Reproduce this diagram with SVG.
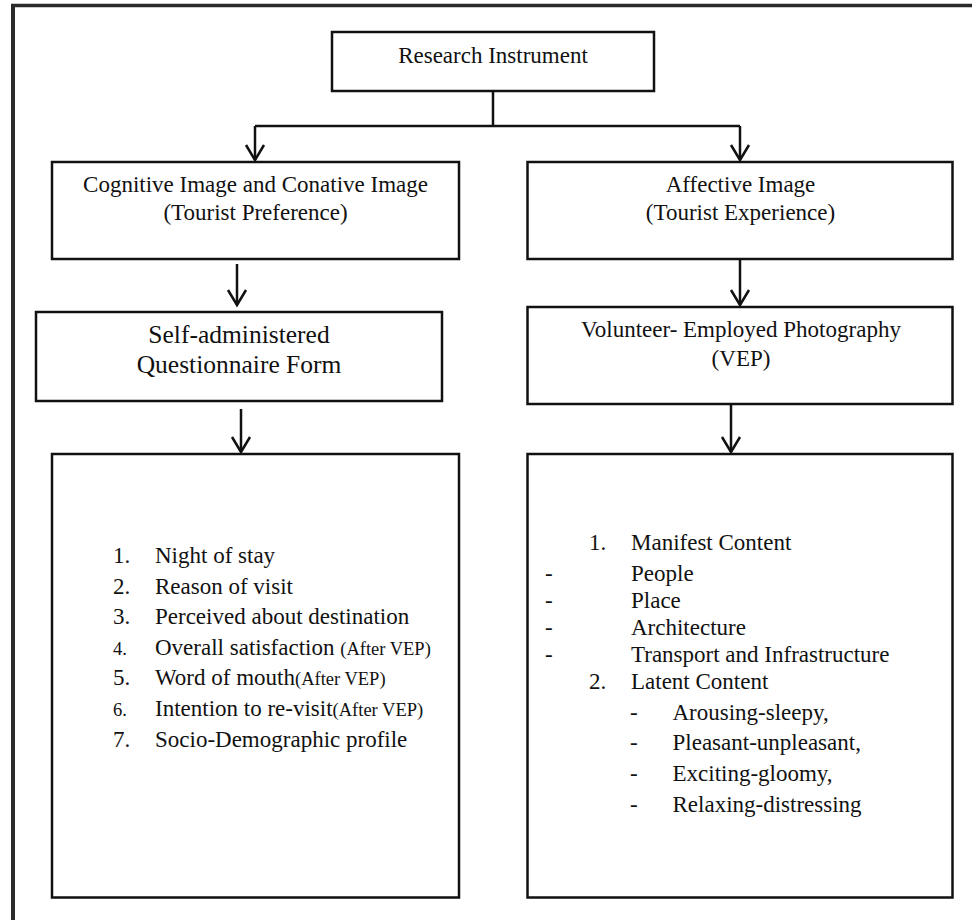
<svg xmlns="http://www.w3.org/2000/svg" width="972" height="920" viewBox="0 0 972 920">
<style>
  .box { fill: #fff; stroke: #111; stroke-width: 2.5; }
  .t { font-family: "Liberation Serif", "Times New Roman", serif; fill: #111; font-size: 23px; }
  .c { text-anchor: middle; }
  .big { font-size: 25.5px; }
  .sm { font-size: 18.5px; }
  .con { stroke: #111; stroke-width: 2.5; fill: none; }
  .frame { stroke: #2a2a2a; fill: none; }
</style>
<defs>
  <marker id="arr" markerUnits="userSpaceOnUse" viewBox="-20 -12 24 24" markerWidth="24" markerHeight="24" refX="0" refY="0" orient="auto">
    <path d="M-15,-9 L0,0 L-15,9" fill="none" stroke="#111" stroke-width="2.5" stroke-linejoin="miter"/>
  </marker>
</defs>
<rect width="972" height="920" fill="#fff"/>
<g id="frame">
  <line class="frame" x1="11" y1="5.5" x2="972" y2="5.5" stroke-width="3.5"/>
  <line class="frame" x1="13" y1="4" x2="13" y2="920" stroke-width="4"/>
</g>
<g id="connectors">
  <line class="con" x1="493" y1="91" x2="493" y2="126"/>
  <line class="con" x1="255" y1="126" x2="740" y2="126"/>
  <line class="con" x1="255" y1="126" x2="255" y2="160" marker-end="url(#arr)"/>
  <line class="con" x1="740" y1="126" x2="740" y2="160" marker-end="url(#arr)"/>
  <line class="con" x1="237" y1="264" x2="237" y2="305" marker-end="url(#arr)"/>
  <line class="con" x1="740" y1="259" x2="740" y2="305" marker-end="url(#arr)"/>
  <line class="con" x1="241" y1="409" x2="241" y2="452" marker-end="url(#arr)"/>
  <line class="con" x1="731" y1="404" x2="731" y2="452" marker-end="url(#arr)"/>
</g>
<g id="research-instrument">
  <rect class="box" x="332" y="32" width="322" height="59"/>
  <text class="t c" x="493" y="63">Research Instrument</text>
</g>
<g id="cognitive">
  <rect class="box" x="52" y="162" width="407" height="97"/>
  <text class="t c" x="255.5" y="192">Cognitive Image and Conative Image</text>
  <text class="t c" x="255.5" y="220">(Tourist Preference)</text>
</g>
<g id="affective">
  <rect class="box" x="527.5" y="162" width="425" height="97"/>
  <text class="t c" x="740.5" y="192">Affective Image</text>
  <text class="t c" x="740.5" y="220">(Tourist Experience)</text>
</g>
<g id="questionnaire">
  <rect class="box" x="36" y="312" width="406" height="89"/>
  <text class="t c big" x="239" y="343">Self-administered</text>
  <text class="t c big" x="239" y="373">Questionnaire Form</text>
</g>
<g id="vep">
  <rect class="box" x="527.5" y="307" width="425" height="97"/>
  <text class="t c" x="741" y="337">Volunteer- Employed Photography</text>
  <text class="t c" x="741" y="366">(VEP)</text>
</g>
<g id="questionnaire-items">
  <rect class="box" x="52" y="454" width="407" height="443.5"/>
  <text class="t" x="113" y="563">1.</text><text class="t" x="155" y="563">Night of stay</text>
  <text class="t" x="113" y="593.5">2.</text><text class="t" x="155" y="593.5">Reason of visit</text>
  <text class="t" x="113" y="624">3.</text><text class="t" x="155" y="624">Perceived about destination</text>
  <text class="t sm" x="113" y="654.5">4.</text><text class="t" x="155" y="654.5">Overall satisfaction <tspan class="sm">(After VEP)</tspan></text>
  <text class="t" x="113" y="685">5.</text><text class="t" x="155" y="685">Word of mouth<tspan class="sm">(After VEP)</tspan></text>
  <text class="t sm" x="113" y="716">6.</text><text class="t" x="155" y="716">Intention to re-visit<tspan class="sm">(After VEP)</tspan></text>
  <text class="t" x="113" y="746.5">7.</text><text class="t" x="155" y="746.5">Socio-Demographic profile</text>
</g>
<g id="vep-items">
  <rect class="box" x="527.5" y="454" width="425" height="443.5"/>
  <text class="t" x="589" y="550">1.</text><text class="t" x="631" y="550">Manifest Content</text>
  <text class="t" x="545" y="581">-</text><text class="t" x="631" y="581">People</text>
  <text class="t" x="545" y="608">-</text><text class="t" x="631" y="608">Place</text>
  <text class="t" x="545" y="634.5">-</text><text class="t" x="631" y="634.5">Architecture</text>
  <text class="t" x="545" y="661.5">-</text><text class="t" x="631" y="661.5">Transport and Infrastructure</text>
  <text class="t" x="589" y="688.5">2.</text><text class="t" x="631" y="688.5">Latent Content</text>
  <text class="t" x="630" y="719.5">-</text><text class="t" x="672.5" y="719.5">Arousing-sleepy,</text>
  <text class="t" x="630" y="750">-</text><text class="t" x="672.5" y="750">Pleasant-unpleasant,</text>
  <text class="t" x="630" y="781">-</text><text class="t" x="672.5" y="781">Exciting-gloomy,</text>
  <text class="t" x="630" y="812">-</text><text class="t" x="672.5" y="812">Relaxing-distressing</text>
</g>
</svg>
